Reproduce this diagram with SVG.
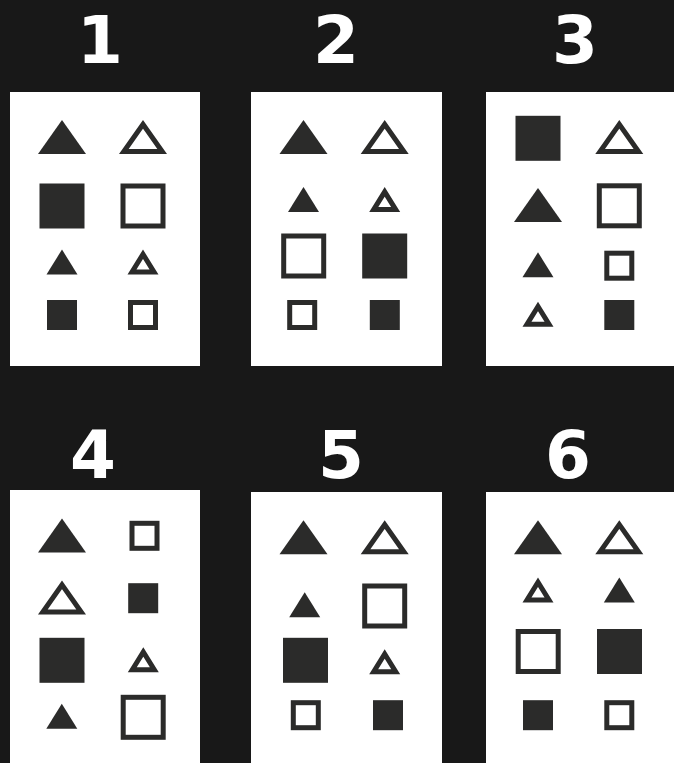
<svg xmlns="http://www.w3.org/2000/svg" width="674" height="763" viewBox="0 0 674 763">
<style>
.bg{fill:#181818}
.panel{fill:#ffffff}
.lbl{font-family:"DejaVu Sans",sans-serif;font-weight:bold;font-size:66px;fill:#ffffff;text-anchor:middle}
.f{fill:#2b2b2a}
.o{fill:#ffffff;stroke:#2b2b2a;stroke-width:5;stroke-linejoin:miter}
</style>
<defs>
<polygon id="bt" class="f" points="-24,17 24,17 0,-17"/>
<polygon id="bto" class="o" points="-19.18,14.5 19.18,14.5 0,-12.67"/>
<polygon id="st" class="f" points="-15.5,12.5 15.5,12.5 0,-12.5"/>
<polygon id="sto" class="o" points="-11,10 11,10 0,-7.75"/>
<rect id="bs" class="f" x="-22.5" y="-22.5" width="45" height="45"/>
<rect id="bso" class="o" x="-20" y="-20" width="40" height="40"/>
<rect id="ss" class="f" x="-15" y="-15" width="30" height="30"/>
<rect id="sso" class="o" x="-12.5" y="-12.5" width="25" height="25"/>
</defs>
<rect class="bg" x="0" y="0" width="674" height="763"/>

<g id="panel1">
<text class="lbl" x="100" y="63">1</text>
<rect class="panel" x="10" y="92" width="190" height="274"/>
<use href="#bt" x="62" y="137"/>
<use href="#bto" x="143" y="137"/>
<use href="#bs" x="62" y="206"/>
<use href="#bso" x="143" y="206"/>
<use href="#st" x="62" y="262"/>
<use href="#sto" x="143" y="262"/>
<use href="#ss" x="62" y="315"/>
<use href="#sso" x="143" y="315"/>
</g>

<g id="panel2">
<text class="lbl" x="336" y="63">2</text>
<rect class="panel" x="251" y="92" width="191" height="274"/>
<use href="#bt" x="303.5" y="137"/>
<use href="#bto" x="384.7" y="137"/>
<use href="#st" x="303.5" y="199.6"/>
<use href="#sto" x="384.7" y="199.6"/>
<use href="#bso" x="303.7" y="256"/>
<use href="#bs" x="384.7" y="256"/>
<use href="#sso" x="302.2" y="315"/>
<use href="#ss" x="384.8" y="315"/>
</g>

<g id="panel3">
<text class="lbl" x="575" y="63">3</text>
<rect class="panel" x="486" y="92" width="190" height="274"/>
<use href="#bs" x="538" y="138.3"/>
<use href="#bto" x="619.3" y="137"/>
<use href="#bt" x="538" y="205"/>
<use href="#bso" x="619.3" y="205.8"/>
<use href="#st" x="538" y="264.8"/>
<use href="#sso" x="619.3" y="265.7"/>
<use href="#sto" x="538" y="314.3"/>
<use href="#ss" x="619.3" y="315"/>
</g>

<g id="panel4">
<text class="lbl" x="93" y="478">4</text>
<rect class="panel" x="10" y="490" width="190" height="280"/>
<use href="#bt" x="62" y="535.5"/>
<use href="#sso" x="144.5" y="535.8"/>
<use href="#bto" x="62" y="597.5"/>
<use href="#ss" x="143.2" y="598.2"/>
<use href="#bs" x="62" y="660.3"/>
<use href="#sto" x="143.3" y="659.7"/>
<use href="#st" x="61.8" y="716.3"/>
<use href="#bso" x="143.2" y="717.3"/>
</g>

<g id="panel5">
<text class="lbl" x="341" y="478">5</text>
<rect class="panel" x="251" y="492" width="191" height="280"/>
<use href="#bt" x="303.5" y="537.2"/>
<use href="#bto" x="384.7" y="537.2"/>
<use href="#st" x="304.7" y="604.8"/>
<use href="#bso" x="384.7" y="606"/>
<use href="#bs" x="305.5" y="660.3"/>
<use href="#sto" x="384.7" y="661.7"/>
<use href="#sso" x="305.8" y="715.2"/>
<use href="#ss" x="388" y="715.2"/>
</g>

<g id="panel6">
<text class="lbl" x="568" y="478">6</text>
<rect class="panel" x="486" y="492" width="190" height="280"/>
<use href="#bt" x="538" y="537.2"/>
<use href="#bto" x="619.3" y="537.2"/>
<use href="#sto" x="538" y="590"/>
<use href="#st" x="619.3" y="590"/>
<use href="#bso" x="538.2" y="651.5"/>
<use href="#bs" x="619.5" y="651.5"/>
<use href="#ss" x="538" y="715.2"/>
<use href="#sso" x="619.3" y="715.2"/>
</g>

<g id="connectors"/>
</svg>
